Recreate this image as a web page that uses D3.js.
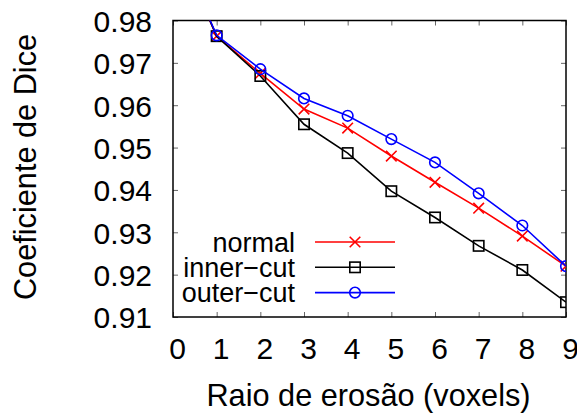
<!DOCTYPE html>
<html>
<head>
<meta charset="utf-8">
<script src="https://cdn.jsdelivr.net/npm/d3@7"></script>
<style>
    body { margin: 0; background: #fff; }
    svg { display: block; }
    svg text { font-family: "Liberation Sans", Arimo, Arial, sans-serif; }
</style>
</head>
<body>
<div id="container"><svg></svg></div>
<script>
const SVG_WIDTH = 577;
const SVG_HEIGHT = 414;
const FONT = '"Liberation Sans", Arimo, Arial, sans-serif';

const radius = [0, 1, 2, 3, 4, 5, 6, 7, 8, 9];
const normal = [1.0, 0.9763, 0.9675, 0.9591, 0.9546, 0.9480, 0.9418, 0.9357, 0.9291, 0.9220];
const inner_cut = [1.0, 0.9763, 0.9669, 0.9555, 0.9487, 0.9397, 0.9335, 0.9268, 0.9211, 0.9135];
const outer_cut = [1.0, 0.9765, 0.9685, 0.9616, 0.9575, 0.9520, 0.9465, 0.9392, 0.9316, 0.9220];
const x_ticks = [0, 1, 2, 3, 4, 5, 6, 7, 8, 9];
const y_ticks = [0.91, 0.92, 0.93, 0.94, 0.95, 0.96, 0.97, 0.98];

const series = [
    {name: 'normal', values: normal, color: '#ff0000', marker: 'cross'},
    {name: 'inner\u2212cut', values: inner_cut, color: '#000000', marker: 'square'},
    {name: 'outer\u2212cut', values: outer_cut, color: '#0000ff', marker: 'circle'}
];

const plot = {left: 173, right: 566, top: 20.5, bottom: 317};

let svg = d3.select('#container').select('svg')
    .attr('width', SVG_WIDTH)
    .attr('height', SVG_HEIGHT);

let x = d3.scaleLinear().domain([0, 9]).range([plot.left, plot.right]);
let y = d3.scaleLinear().domain([0.91, 0.98]).range([plot.bottom, plot.top]);

svg.append('defs').append('clipPath')
    .attr('id', 'clip')
    .append('rect')
    .attr('x', plot.left)
    .attr('y', plot.top)
    .attr('width', plot.right - plot.left)
    .attr('height', plot.bottom - plot.top);

// inner ticks on all four sides, gnuplot style
let tick_len = 5;
let axis_b = svg.append('g')
    .attr('transform', `translate(0, ${plot.bottom})`)
    .call(d3.axisBottom(x).tickValues(x_ticks).tickSize(-tick_len).tickFormat(d3.format('d')).tickPadding(14));
let axis_t = svg.append('g')
    .attr('transform', `translate(0, ${plot.top})`)
    .call(d3.axisTop(x).tickValues(x_ticks).tickSize(-tick_len).tickFormat(''));
let axis_l = svg.append('g')
    .attr('transform', `translate(${plot.left}, 0)`)
    .call(d3.axisLeft(y).tickValues(y_ticks).tickSize(-tick_len).tickFormat(d3.format('.2f')).tickPadding(21));
let axis_r = svg.append('g')
    .attr('transform', `translate(${plot.right}, 0)`)
    .call(d3.axisRight(y).tickValues(y_ticks).tickSize(-tick_len).tickFormat(''));

[axis_b, axis_t, axis_l, axis_r].forEach(a => {
    a.attr('font-family', FONT);
    a.select('.domain').remove();
    a.selectAll('.tick line').attr('stroke', '#666').attr('stroke-width', 1);
});

axis_b.selectAll('text')
    .attr('font-size', 30)
    .attr('fill', '#000')
    .attr('dx', 4)
    .attr('dy', 0)
    .attr('y', 42);

axis_l.selectAll('text')
    .attr('font-size', 30)
    .attr('fill', '#000')
    .attr('dy', '0.36em');

// frame
svg.append('rect')
    .attr('x', plot.left)
    .attr('y', plot.top)
    .attr('width', plot.right - plot.left)
    .attr('height', plot.bottom - plot.top)
    .attr('fill', 'none')
    .attr('stroke', '#000')
    .attr('stroke-width', 1.5);

function draw_marker(g, type, cx, cy, color) {
    if (type === 'cross') {
        let s = 5.3;
        g.append('path')
            .attr('d', `M${cx - s},${cy - s}L${cx + s},${cy + s}M${cx - s},${cy + s}L${cx + s},${cy - s}`)
            .attr('stroke', color).attr('stroke-width', 1.6).attr('fill', 'none');
    } else if (type === 'square') {
        let s = 5.2;
        g.append('rect')
            .attr('x', cx - s).attr('y', cy - s)
            .attr('width', 2 * s).attr('height', 2 * s)
            .attr('stroke', color).attr('stroke-width', 1.6).attr('fill', 'none');
    } else {
        g.append('circle')
            .attr('cx', cx).attr('cy', cy).attr('r', 5.3)
            .attr('stroke', color).attr('stroke-width', 1.6).attr('fill', 'none');
    }
}

let line = d3.line()
    .x((d, i) => x(radius[i]))
    .y(d => y(d));

let plot_g = svg.append('g').attr('clip-path', 'url(#clip)');

series.forEach(s => {
    plot_g.append('path')
        .attr('d', line(s.values))
        .attr('fill', 'none')
        .attr('stroke', s.color)
        .attr('stroke-width', 1.6);
    s.values.forEach((v, i) => {
        if (v <= 0.98) draw_marker(plot_g, s.marker, x(radius[i]), y(v), s.color);
    });
});

// legend
let legend = svg.append('g');
series.forEach((s, i) => {
    let row_y = 242 + i * 25.3;
    legend.append('text')
        .attr('x', 295)
        .attr('y', row_y)
        .attr('dy', '0.36em')
        .attr('text-anchor', 'end')
        .attr('font-size', 27)
        .text(s.name);
    legend.append('line')
        .attr('x1', 315).attr('x2', 395)
        .attr('y1', row_y).attr('y2', row_y)
        .attr('stroke', s.color)
        .attr('stroke-width', 1.6);
    draw_marker(legend, s.marker, 355, row_y, s.color);
});

svg.append('text')
    .attr('x', 368.5)
    .attr('y', 406)
    .attr('text-anchor', 'middle')
    .attr('font-size', 30.7)
    .text('Raio de eros\u00e3o (voxels)');

svg.append('text')
    .attr('transform', `translate(36, 167) rotate(-90)`)
    .attr('text-anchor', 'middle')
    .attr('font-size', 30.7)
    .text('Coeficiente de Dice');
</script>
</body>
</html>
